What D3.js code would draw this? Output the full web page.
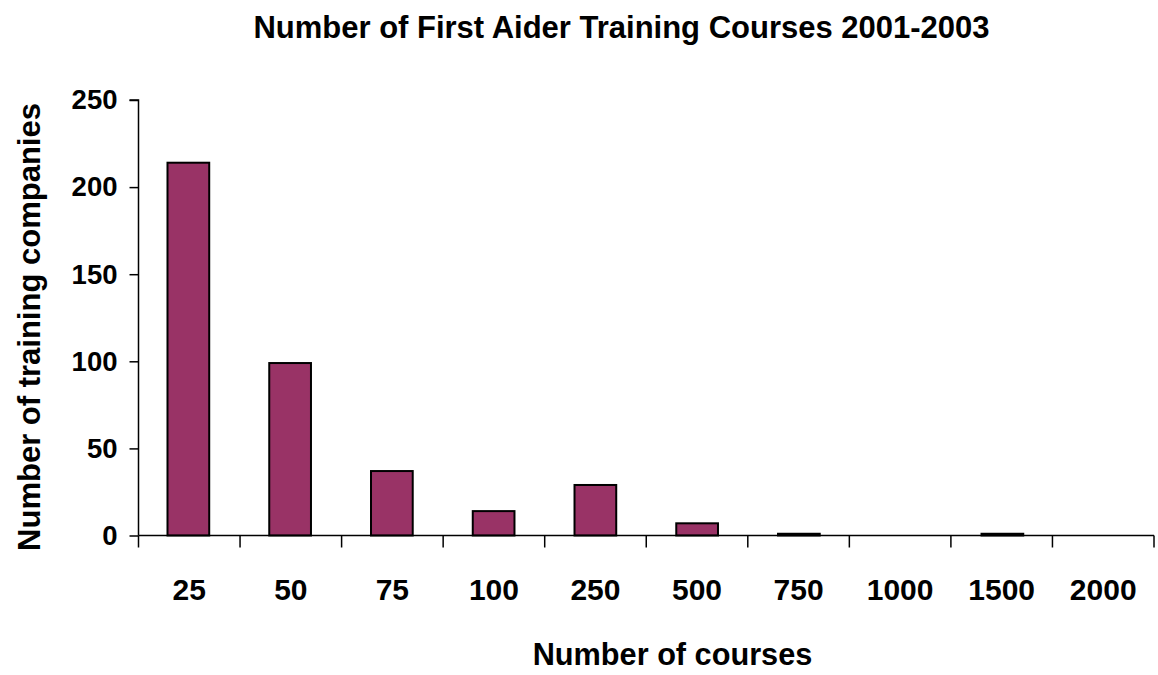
<!DOCTYPE html>
<html><head><meta charset="utf-8">
<script src="https://cdn.jsdelivr.net/npm/d3@7/dist/d3.min.js"></script>
<style>body{margin:0;background:#fff;} svg{display:block;font-family:"Liberation Sans",Arial,sans-serif;font-weight:bold;}</style>
</head><body><svg id="c" width="1158" height="675"></svg>
<script>
const categories = ["25","50","75","100","250","500","750","1000","1500","2000"];
const values = [214, 99, 37, 14, 29, 7, 1, 0, 1, 0];
const yTicks = [0, 50, 100, 150, 200, 250];

const svg = d3.select("#c");
const pLeft = 138.5, pRight = 1154, pTop = 100, pBottom = 535.5;
const x = d3.scaleBand().domain(categories).range([pLeft, pRight]).paddingInner(0.59).paddingOuter(0.285);
const xb = d3.scaleBand().domain(categories).range([pLeft, pRight]);
const y = d3.scaleLinear().domain([0, 250]).range([pBottom, pTop]);

// bars
svg.append("g").selectAll("rect").data(values).join("rect")
  .attr("x", (d,i) => x(categories[i]))
  .attr("y", d => y(d))
  .attr("width", x.bandwidth())
  .attr("height", d => pBottom - y(d))
  .attr("fill", "#993366")
  .attr("stroke", "#000")
  .attr("stroke-width", 2)
  .attr("display", d => d > 0 ? null : "none");

// y axis
const ya = svg.append("g").attr("transform", `translate(${pLeft},0)`)
  .call(d3.axisLeft(y).tickValues(yTicks).tickSize(9).tickPadding(12));
ya.select(".domain").attr("stroke-width", 1.5).attr("d", `M-9,${pTop}H0V${pBottom}`);
ya.selectAll(".tick line").attr("stroke-width", 1.5);
ya.selectAll("text").attr("font-size", 27.5).attr("font-weight", "bold").attr("fill","#000").attr("font-family", "Liberation Sans, Arial, sans-serif");

// x axis
const xa = svg.append("g").attr("transform", `translate(0,${pBottom})`);
xa.append("line").attr("x1", pLeft).attr("x2", pRight).attr("stroke", "#000").attr("stroke-width", 1.5);
const edges = categories.map(c => xb(c)).concat([pRight]);
xa.selectAll("line.t").data(edges).join("line").attr("class","t")
  .attr("x1", d => d).attr("x2", d => d).attr("y1", 0).attr("y2", 12)
  .attr("stroke", "#000").attr("stroke-width", 1.5);
xa.selectAll("text").data(categories).join("text")
  .attr("x", d => xb(d) + xb.bandwidth()/2)
  .attr("y", 64)
  .attr("text-anchor", "middle")
  .attr("font-size", 30)
  .text(d => d);

// title & labels
svg.append("text").attr("x", 621.5).attr("y", 38).attr("text-anchor","middle").attr("font-size", 31)
  .text("Number of First Aider Training Courses 2001-2003");
svg.append("text").attr("x", 672.5).attr("y", 665).attr("text-anchor","middle").attr("font-size", 30.7)
  .text("Number of courses");
svg.append("text").attr("transform", "translate(40,327) rotate(-90)").attr("text-anchor","middle").attr("font-size", 31)
  .text("Number of training companies");
</script></body></html>
